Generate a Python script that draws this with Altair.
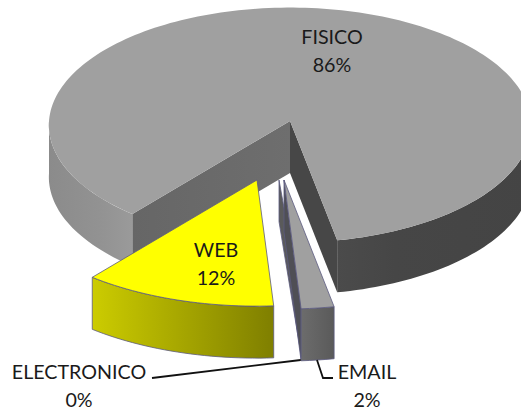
import math
import altair as alt

# Chart values
categories = ["FISICO", "WEB", "ELECTRONICO", "EMAIL"]
shares = [86, 12, 0, 2]

# Layout of the tilted, exploded pie, in page pixels
TILT = 0.487
DEPTH = 52
PERSPECTIVE = 0.035
START_ANGLE = 39.5  # degrees from the front of the pie, turning towards its right side
OUTLINE = "#5c5a80"

SLICE_LAYOUT = {
    "FISICO": {"apex": (290, 121), "radius": 241, "persp": PERSPECTIVE, "twist": 0},
    "WEB": {"apex": (257, 180), "radius": 259, "persp": 0, "twist": 0},
    "ELECTRONICO": {"apex": (279, 180), "radius": 258, "persp": 0, "twist": -1.3},
    "EMAIL": {"apex": (284, 180), "radius": 265, "persp": 0, "twist": 0},
}
LABEL_POS = {
    "FISICO": (332, 38),
    "WEB": (216, 251),
    "ELECTRONICO": (79, 373),
    "EMAIL": (367, 373),
}
LEADERS = {
    "ELECTRONICO": [(300.7, 360), (152, 378)],
    "EMAIL": [(317, 360), (323, 378), (333, 378)],
}


def slice_spans():
    """Sweep each category through its share of the full circle."""
    order = ["WEB", "ELECTRONICO", "EMAIL", "FISICO"]
    angle = START_ANGLE
    spans = {}
    for name in order:
        sweep = shares[categories.index(name)] * 3.6
        spans[name] = (angle, angle - sweep)
        angle -= sweep
    return spans


def point(name, theta, rim=1.0, drop=0.0):
    layout = SLICE_LAYOUT[name]
    t = math.radians(theta + layout["twist"])
    side = -math.sin(t) * rim
    front = math.cos(t) * rim
    s = 1 / (1 - layout["persp"] * front)
    r = layout["radius"]
    return (
        layout["apex"][0] + side * r * s,
        layout["apex"][1] + TILT * front * r * s + drop * DEPTH,
    )


def arc(name, a, b, drop=0.0):
    steps = max(2, int(abs(a - b) / 1.5))
    return [point(name, a + (b - a) * i / steps, 1.0, drop) for i in range(steps + 1)]


def apex(name, drop=0.0):
    x, y = SLICE_LAYOUT[name]["apex"]
    return (x, y + drop * DEPTH)


def gradient(stops):
    return alt.Gradient(
        gradient="linear",
        x1=0, x2=1, y1=0, y2=0,
        stops=[alt.GradientStop(offset=o, color=c) for o, c in stops],
    )


def polygon(ring, fill, stroke=None, stroke_width=0.8):
    ring = [list(p) for p in ring]
    ring.append(ring[0])
    feature = {
        "type": "Feature",
        "properties": {},
        "geometry": {"type": "Polygon", "coordinates": [ring]},
    }
    style = {"fill": fill, "strokeWidth": stroke_width if stroke else 0}
    if stroke:
        style["stroke"] = stroke
    return (
        alt.Chart(alt.Data(values=[feature]))
        .mark_geoshape(**style)
        .project(type="identity", scale=1, translate=[0, 0])
    )


def leader(points):
    feature = {
        "type": "Feature",
        "properties": {},
        "geometry": {"type": "LineString", "coordinates": [list(p) for p in points]},
    }
    return (
        alt.Chart(alt.Data(values=[feature]))
        .mark_geoshape(filled=False, stroke="#111111", strokeWidth=1.8)
        .project(type="identity", scale=1, translate=[0, 0])
    )


spans = slice_spans()
layers = []

# Main slice: outer wall on both sides of the gap, then the cut walls, then the top
fa, fb = spans["FISICO"]  # fa is the right edge of the gap, fb the left edge
layers.append(polygon(
    arc("FISICO", fa, -90) + arc("FISICO", -90, fa, 1.0),
    gradient([(0, "#4b4b4b"), (0.3, "#464646"), (1, "#444444")]),
))
layers.append(polygon(
    arc("FISICO", -270, fb) + arc("FISICO", fb, -270, 1.0),
    gradient([(0, "#8b8b8b"), (0.6, "#929292"), (1, "#9a9a9a")]),
))
layers.append(polygon(
    [apex("FISICO"), point("FISICO", fb), point("FISICO", fb, 1, 1), apex("FISICO", 1)],
    gradient([(0, "#666666"), (1, "#6e6e6e")]),
))
layers.append(polygon(
    [apex("FISICO"), point("FISICO", fa), point("FISICO", fa, 1, 1), apex("FISICO", 1)],
    "#474747",
))
layers.append(polygon([apex("FISICO")] + arc("FISICO", fa, fb), "#a0a0a0"))

# WEB slice
wa, wb = spans["WEB"]
layers.append(polygon(
    arc("WEB", wa, wb) + arc("WEB", wb, wa, 1.0),
    gradient([(0, "#cccc00"), (1, "#7f7f00")]),
    OUTLINE,
))
layers.append(polygon([apex("WEB")] + arc("WEB", wa, wb), "#ffff00", OUTLINE))

# ELECTRONICO has no sweep, so only its cut wall shows
ea, _ = spans["ELECTRONICO"]
layers.append(polygon(
    [apex("ELECTRONICO"), point("ELECTRONICO", ea), point("ELECTRONICO", ea, 1, 1),
     apex("ELECTRONICO", 0.8)],
    "#5a5a5a", OUTLINE,
))

# EMAIL slice: cut wall, front wall, top
ma, mb = spans["EMAIL"]
layers.append(polygon(
    [apex("EMAIL"), point("EMAIL", ma), point("EMAIL", ma, 1, 1), apex("EMAIL", 1)],
    "#4f4f55", OUTLINE,
))
layers.append(polygon(
    arc("EMAIL", ma, mb) + arc("EMAIL", mb, ma, 1.0),
    gradient([(0, "#6c6c6c"), (1, "#5a5a5a")]),
    OUTLINE,
))
layers.append(polygon([apex("EMAIL")] + arc("EMAIL", ma, mb), "#a0a0a0", OUTLINE))

# Leader lines for the two labels outside the pie
for name in LEADERS:
    layers.append(leader(LEADERS[name]))

# Category name above its percentage
label_rows = []
for name, share in zip(categories, shares):
    x, y = LABEL_POS[name]
    label_rows.append({"lon": x, "lat": y, "text": name})
    label_rows.append({"lon": x, "lat": y + 28, "text": f"{share}%"})

labels = (
    alt.Chart(alt.Data(values=label_rows))
    .mark_text(font="Lato", fontSize=19.7, color="#1a1a1a", align="center", baseline="middle")
    .encode(longitude="lon:Q", latitude="lat:Q", text="text:N")
    .project(type="identity", scale=1, translate=[0, 0])
)
layers.append(labels)

chart = (
    alt.layer(*layers)
    .properties(width=521, height=411, padding=0, background="white",
                autosize=alt.AutoSizeParams(type="none"))
    .configure_view(stroke=None)
)

chart.save("out.html", embed_options={"renderer": "svg", "actions": False})
